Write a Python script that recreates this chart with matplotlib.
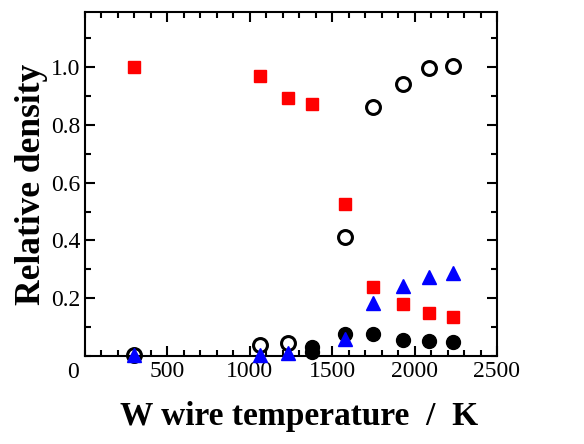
import matplotlib

matplotlib.use("Agg")
import matplotlib.pyplot as plt
from matplotlib.ticker import MultipleLocator

plt.rcParams["font.family"] = ["Liberation Serif", "DejaVu Serif"]

# W wire temperature (K)
temp = [300, 1060, 1230, 1380, 1578, 1750, 1930, 2088, 2234]

red_sq = [1.0, 0.969, 0.894, 0.873, 0.527, 0.240, 0.181, 0.150, 0.136]
open_circ_t = [300, 1060, 1230, 1578, 1750, 1930, 2088, 2234]
open_circ = [0.003, 0.040, 0.046, 0.412, 0.863, 0.942, 0.995, 1.002]
filled_t = [1380, 1380, 1578, 1750, 1930, 2088, 2234]
filled = [0.015, 0.030, 0.076, 0.078, 0.057, 0.053, 0.048]
tri_t = [300, 1060, 1230, 1578, 1750, 1930, 2088, 2234]
tri = [0.003, 0.004, 0.012, 0.058, 0.184, 0.242, 0.274, 0.288]

fig = plt.figure(figsize=(5.84, 4.44), dpi=100)
ax = fig.add_axes([0.1455, 0.198, 0.7055, 0.775])

ax.plot(filled_t, filled, "o", ms=10, color="black", mec="black", zorder=3, clip_on=False)
ax.plot(open_circ_t, open_circ, "o", ms=10, mfc="none", mec="black", mew=2.2, zorder=4, clip_on=False)
ax.plot(tri_t, tri, "^", ms=9.5, color="blue", mec="blue", zorder=5, clip_on=False)
ax.plot(temp, red_sq, "s", ms=8.5, color="red", mec="red", zorder=6, clip_on=False)

ax.set_xlim(0, 2500)
ax.set_ylim(0, 1.19)
ax.xaxis.set_major_locator(MultipleLocator(500))
ax.xaxis.set_minor_locator(MultipleLocator(100))
ax.yaxis.set_major_locator(MultipleLocator(0.2))
ax.yaxis.set_minor_locator(MultipleLocator(0.1))
ax.tick_params(which="both", direction="in", top=True, right=True, width=1.5)
ax.tick_params(which="major", length=7, labelsize=17)
ax.tick_params(which="minor", length=4.5)
ax.set_xticks([500, 1000, 1500, 2000, 2500])
ax.set_xticklabels(["500", "1000", "1500", "2000", "2500"])
ax.set_yticks([0.2, 0.4, 0.6, 0.8, 1.0])
ax.set_yticklabels(["0.2", "0.4", "0.6", "0.8", "1.0"])
for s in ax.spines.values():
    s.set_linewidth(1.5)

fig.text(73 / 584, 1 - 372 / 444, "0", fontsize=17, ha="center", va="center")
ax.set_xlabel("W wire temperature  /  K", fontsize=24, fontweight="bold", labelpad=14)
ax.xaxis.label.set_x(0.52)
ax.set_ylabel("Relative density", fontsize=25.5, fontweight="bold", labelpad=2)

fig.savefig("out.png", dpi=100)
